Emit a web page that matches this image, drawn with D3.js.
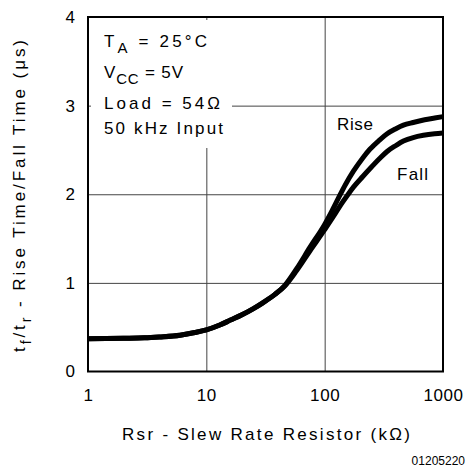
<!DOCTYPE html>
<html>
<head>
<meta charset="utf-8">
<script src="https://cdn.jsdelivr.net/npm/d3@7"></script>
<style>
  body { margin: 0; background: #fff; }
  svg { display: block; }
  text { font-family: "Liberation Sans", Arial, sans-serif; fill: #000; }
  .axis path { display: none; }
  .grid line { stroke: #444; stroke-width: 1; }
  .curve { fill: none; stroke: #000; stroke-width: 5; stroke-linejoin: round; stroke-linecap: butt; }
</style>
</head>
<body>
<div id="chart"></div>
<script>
// values
var xTicks = [1, 10, 100, 1000];
var yTicks = [0, 1, 2, 3, 4];

var riseRsr  = [1, 2, 3, 4, 6, 8, 10, 13, 16, 20, 25, 30, 38, 46, 58, 75, 100, 115, 130, 150, 175, 210, 242, 290, 335, 400, 463, 560, 700, 850, 1000];
var riseTime = [0.37, 0.375, 0.38, 0.39, 0.41, 0.44, 0.47, 0.525, 0.58, 0.64, 0.71, 0.775, 0.87, 0.97, 1.16, 1.40, 1.66, 1.81, 1.95, 2.11, 2.26, 2.41, 2.51, 2.61, 2.68, 2.74, 2.78, 2.81, 2.84, 2.86, 2.876];

var fallRsr  = [1, 2, 3, 4, 6, 8, 10, 13, 16, 20, 25, 30, 38, 46, 58, 75, 100, 120, 135, 156, 175, 210, 242, 290, 335, 400, 463, 560, 683, 850, 1000];
var fallTime = [0.37, 0.375, 0.38, 0.39, 0.41, 0.44, 0.47, 0.525, 0.58, 0.64, 0.71, 0.775, 0.87, 0.965, 1.14, 1.36, 1.60, 1.76, 1.87, 1.99, 2.08, 2.20, 2.29, 2.40, 2.48, 2.55, 2.60, 2.64, 2.665, 2.682, 2.69];

var W = 467, H = 467;
var margin = {top: 17, right: 24, bottom: 95.5, left: 88},
    width = W - margin.left - margin.right,
    height = H - margin.top - margin.bottom;

var svg = d3.select("#chart").append("svg")
    .attr("width", W)
    .attr("height", H);

var g = svg.append("g")
    .attr("transform", "translate(" + margin.left + "," + margin.top + ")");

var x = d3.scaleLog().domain([1, 1000]).range([0, width]);
var y = d3.scaleLinear().domain([0, 4]).range([height, 0]);

// grid lines
g.append("g")
    .attr("class", "grid")
    .attr("transform", "translate(0," + height + ")")
    .call(d3.axisBottom(x).tickValues([10, 100]).tickSize(-height).tickFormat(""))
    .select(".domain").remove();

g.append("g")
    .attr("class", "grid")
    .call(d3.axisLeft(y).tickValues([1, 2, 3]).tickSize(-width).tickFormat(""))
    .select(".domain").remove();

// white box behind the conditions text (hides grid, leaves small ticks at the edges)
g.append("rect")
    .attr("x", 3)
    .attr("y", 3)
    .attr("width", 141)
    .attr("height", 128)
    .style("fill", "#fff");

// curves
var line = d3.line()
    .x(function (d) { return x(d[0]); })
    .y(function (d) { return y(d[1]); })
    .curve(d3.curveMonotoneX);

g.append("path")
    .datum(d3.zip(riseRsr, riseTime))
    .attr("class", "curve")
    .attr("d", line);

g.append("path")
    .datum(d3.zip(fallRsr, fallTime))
    .attr("class", "curve")
    .attr("d", line);

// frame
g.append("rect")
    .attr("width", width)
    .attr("height", height)
    .style("fill", "none")
    .style("stroke", "#000")
    .style("stroke-width", 2);

// tick labels
g.append("g")
    .attr("class", "axis")
    .attr("transform", "translate(0," + height + ")")
    .call(d3.axisBottom(x).tickValues(xTicks).tickSize(0).tickPadding(17.5).tickFormat(d3.format("d")))
    .selectAll("text")
    .style("font-size", "17px")
    .style("letter-spacing", "0.6px");

g.append("g")
    .attr("class", "axis")
    .call(d3.axisLeft(y).tickValues(yTicks).tickSize(0).tickPadding(13).tickFormat(d3.format("d")))
    .selectAll("text")
    .style("font-size", "17px");

// curve labels
g.append("text")
    .attr("x", x(127))
    .attr("y", y(2.725))
    .attr("textLength", 36)
    .attr("lengthAdjust", "spacing")
    .style("font-size", "17px")
    .text("Rise");

g.append("text")
    .attr("x", x(409))
    .attr("y", y(2.16))
    .attr("textLength", 31)
    .attr("lengthAdjust", "spacing")
    .style("font-size", "17px")
    .text("Fall");

// conditions text
var cond = g.append("g").style("font-size", "17px");

var t1 = cond.append("text").attr("x", 16).attr("y", 30)
    .attr("textLength", 103).attr("lengthAdjust", "spacing");
t1.append("tspan").text("T");
t1.append("tspan").attr("dy", 6).style("font-size", "15px").text("A");
t1.append("tspan").attr("dy", -6).text(" = 25°C");

var t2 = cond.append("text").attr("x", 16).attr("y", 61)
    .attr("textLength", 79).attr("lengthAdjust", "spacing");
t2.append("tspan").text("V");
t2.append("tspan").attr("dy", 6).style("font-size", "15px").text("CC");
t2.append("tspan").attr("dy", -6).text(" = 5V");

cond.append("text").attr("x", 16).attr("y", 92)
    .attr("textLength", 116).attr("lengthAdjust", "spacing")
    .text("Load = 54Ω");
cond.append("text").attr("x", 16).attr("y", 117)
    .attr("textLength", 119).attr("lengthAdjust", "spacing")
    .text("50 kHz Input");

// axis titles
svg.append("text")
    .attr("x", 122)
    .attr("y", 440)
    .attr("textLength", 288)
    .attr("lengthAdjust", "spacing")
    .style("font-size", "17px")
    .text("Rsr - Slew Rate Resistor (kΩ)");

var yt = svg.append("text")
    .attr("transform", "translate(25,352) rotate(-90)")
    .attr("textLength", 312)
    .attr("lengthAdjust", "spacing")
    .style("font-size", "17px");
yt.append("tspan").text("t");
yt.append("tspan").attr("dy", 6).style("font-size", "14px").text("f");
yt.append("tspan").attr("dy", -6).text("/t");
yt.append("tspan").attr("dy", 6).style("font-size", "14px").text("r");
yt.append("tspan").attr("dy", -6).text(" - Rise Time/Fall Time (μs)");

svg.append("text")
    .attr("x", 465)
    .attr("y", 465)
    .attr("text-anchor", "end")
    .style("font-size", "12px")
    .text("01205220");
</script>
</body>
</html>
